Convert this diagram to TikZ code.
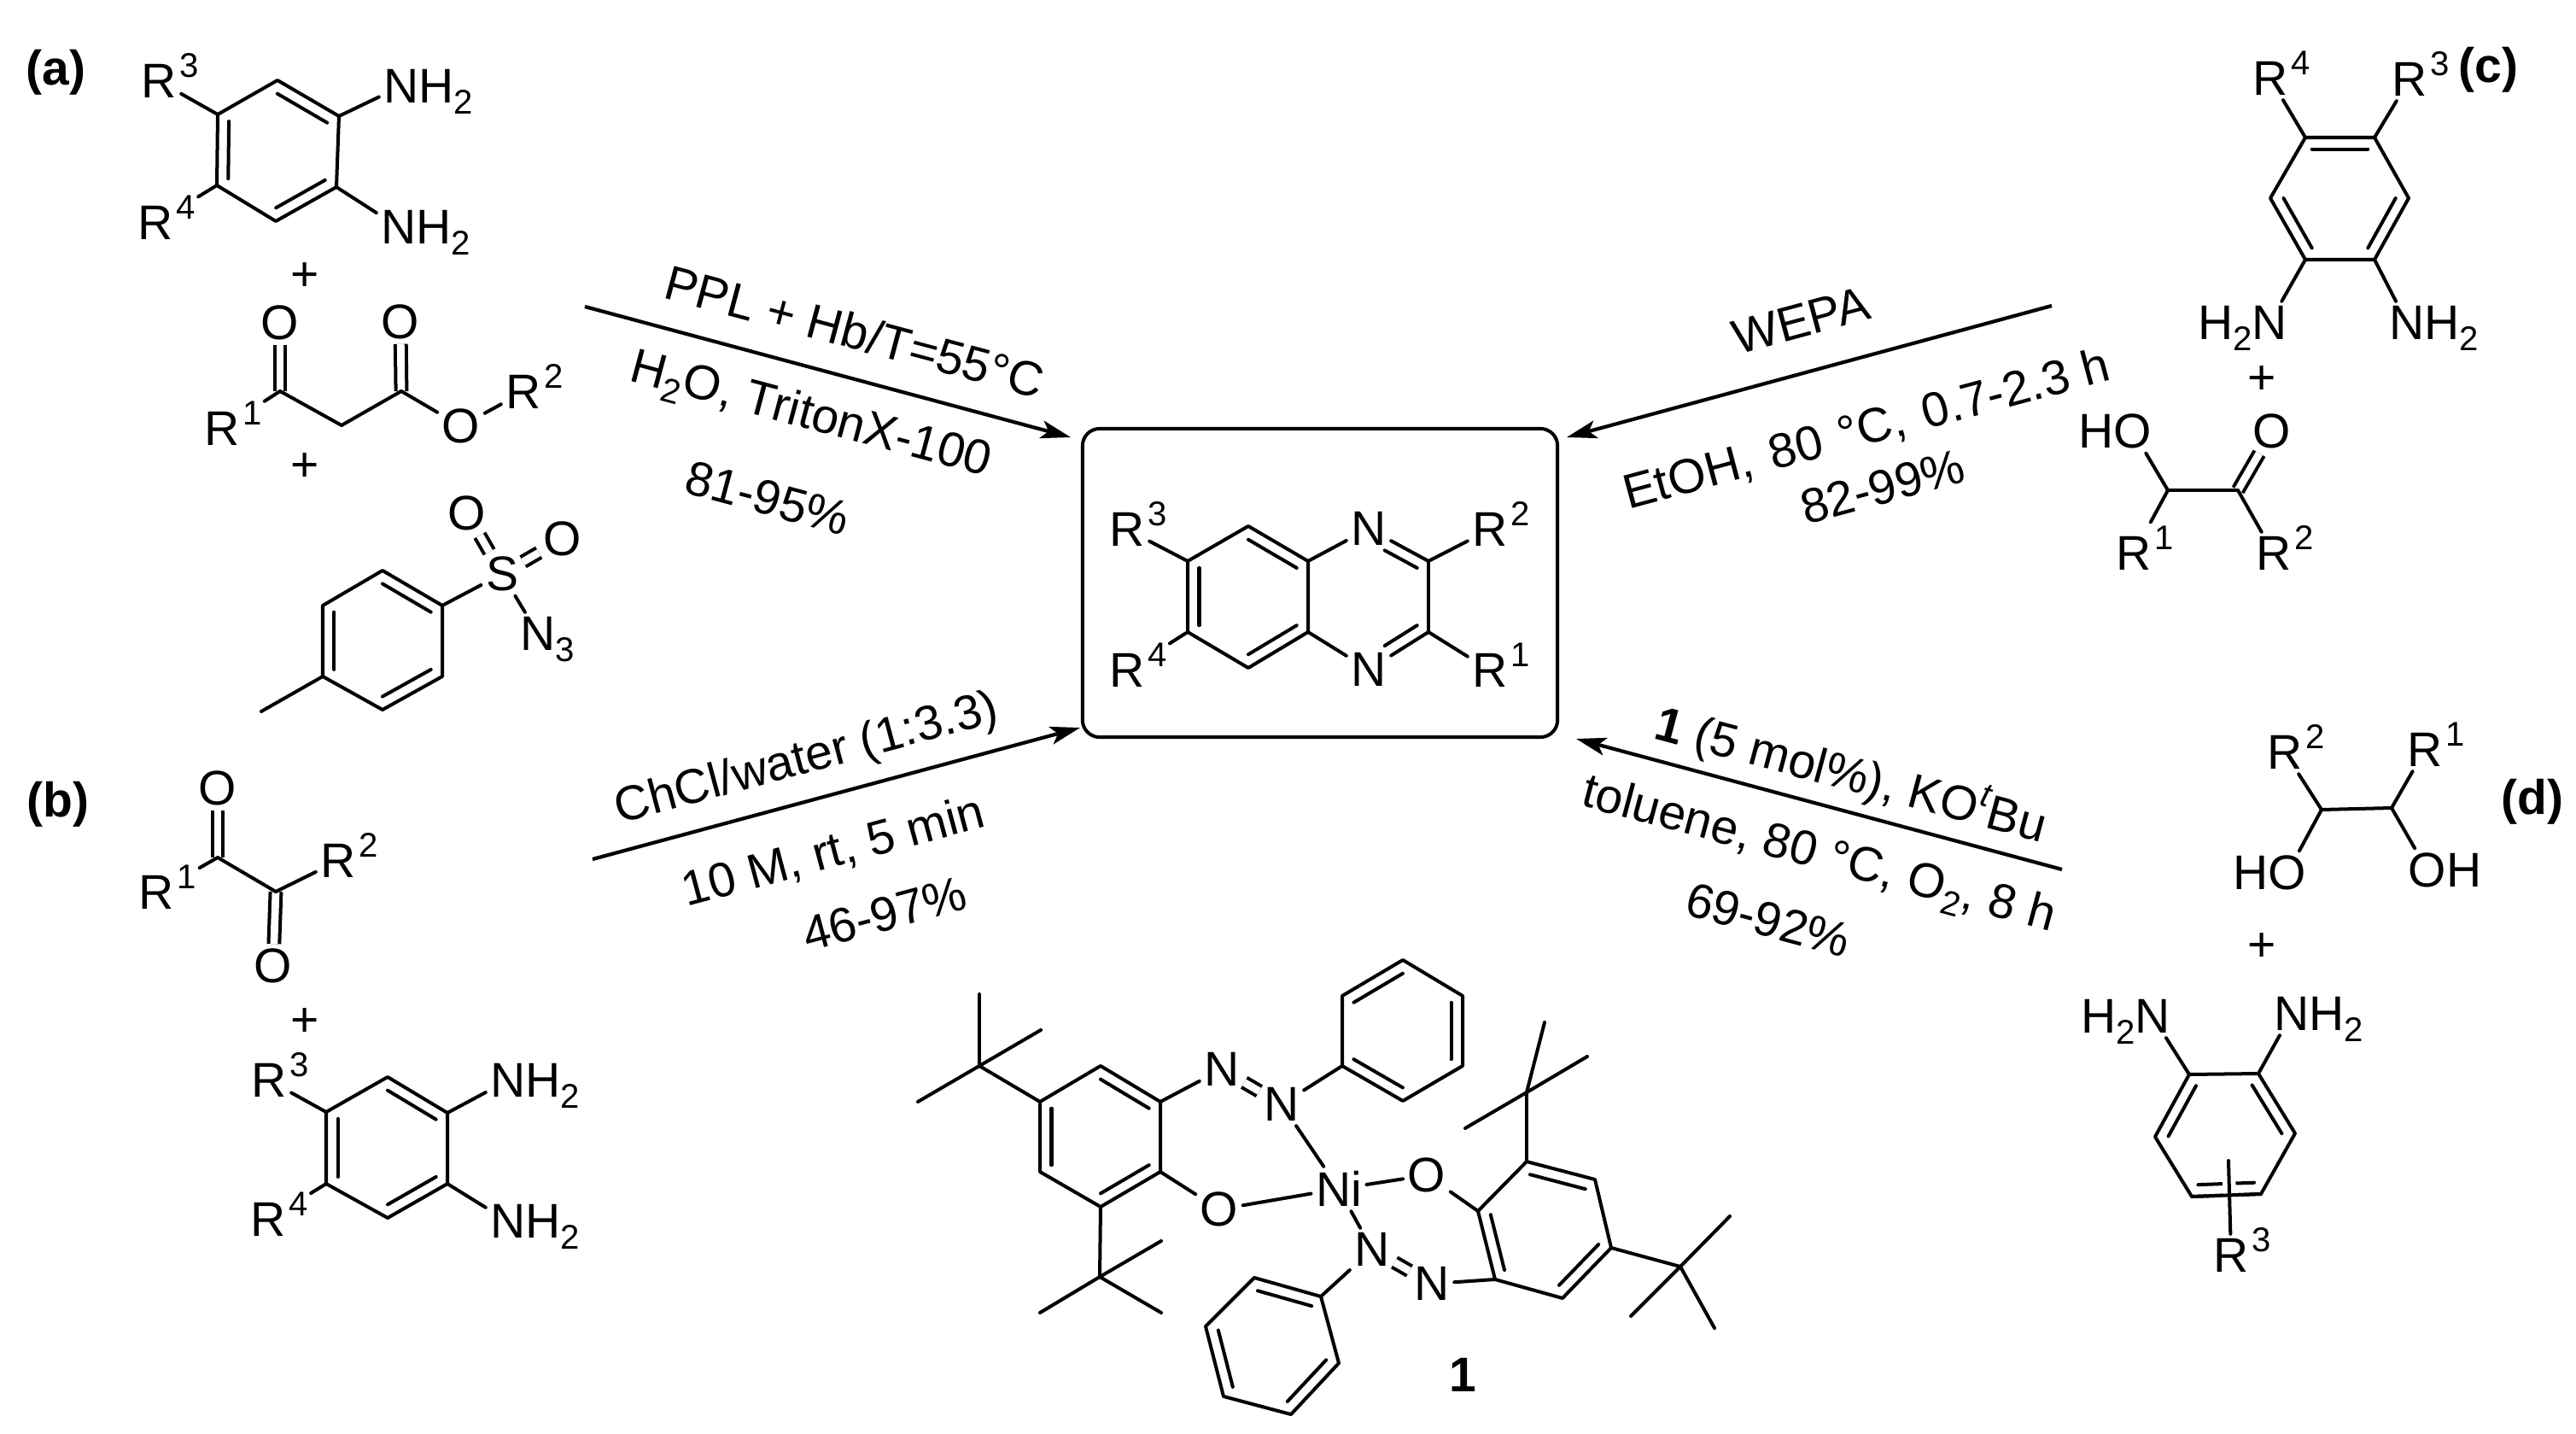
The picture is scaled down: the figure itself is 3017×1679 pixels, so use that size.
\documentclass[tikz,border=0pt]{standalone}
\usepackage{fontspec}
\setmainfont{Liberation Sans}
\usetikzlibrary{arrows.meta,calc}

\newcommand{\supn}[1]{\rlap{\smash{\kern1pt\raisebox{6.8pt}{\fontsize{11.4}{11.4}\selectfont #1}}}}
\newcommand{\subn}[1]{\raisebox{-3.6pt}{\fontsize{11.4}{11.4}\selectfont #1}}
\newcommand{\Rg}[1]{R\supn{#1}}
\newcommand{\NHtwo}{N\rlap{\smash{H\subn{2}}}}
\newcommand{\HtwoN}{\llap{\smash{H\subn{2}}}N}
\newcommand{\hexring}[7]{
  \path coordinate (#1_1) at (#2) coordinate (#1_2) at (#3) coordinate (#1_3) at (#4)
  coordinate (#1_4) at (#5) coordinate (#1_5) at (#6) coordinate (#1_6) at (#7)
  coordinate (#1_c) at ($(#1_1)!.5!(#1_4)$);
  \draw[bond] (#1_1) -- (#1_2) -- (#1_3) -- (#1_4) -- (#1_5) -- (#1_6) -- cycle;
}
\newcommand{\inbond}[3]{\draw[bond] ($(#1)!.19!(#3)$) -- ($(#2)!.19!(#3)$);}
\newcommand{\inbondn}[3]{\draw[bond] ($($(#1)!.33!(#2)$)!.19!(#3)$) -- ($(#2)!.19!(#3)$);}

\begin{document}
\begin{tikzpicture}[x=0.01cm,y=-0.01cm,
  every node/.style={font=\fontsize{16.2}{18}\selectfont},
  bond/.style={line width=1.14pt,line join=round,line cap=round},
  dblbond/.style={every edge/.style={draw,line width=1.14pt,double,double distance=2.5pt}},
  atom/.style={inner sep=1.4pt},
  lab/.style={anchor=base west,inner sep=0pt},
  supgap/.style={shorten >=8pt},
  rxn/.style={line width=1.2pt,-{Stealth[length=10pt,width=6pt,inset=2.4pt]}},
  prodbox/.style={draw,line width=1.14pt,rounded corners=0.2cm,minimum width=5.56cm,minimum height=3.61cm,inner sep=0pt,outer sep=0pt},
  halo/.style={preaction={draw=white,line width=4.4pt,line cap=butt}}]
  \useasboundingbox (0,0) rectangle (3017,1679);

  \path
  node[lab] (lab_a) at (30,100) {\textbf{(a)}}
  node[lab] (lab_b) at (31,956) {\textbf{(b)}}
  node[lab] (lab_c) at (2879,97) {\textbf{(c)}}
  node[lab] (lab_d) at (2929,953) {\textbf{(d)}}
  node (plus_a1) at (357,324) {+}
  node (plus_a2) at (357,547) {+}
  node (plus_b) at (357,1197) {+}
  node (plus_c) at (2649,445) {+}
  node (plus_d) at (2649,1109) {+}
  node (lab_cat) at (1713,1610) {\textbf{1}}
  ;

  % (a)
  \hexring{a}{325,94}{397,136}{394,219}{323,259}{254,217}{255,134}
  \inbond{a_1}{a_2}{a_c} \inbond{a_3}{a_4}{a_c} \inbond{a_5}{a_6}{a_c}
  \path
  node[atom] (a_R3) at (186,95) {\Rg{3}}
  node[atom] (a_R4) at (182,261) {\Rg{4}}
  node[atom] (a_N1) at (470,101) {\NHtwo}
  node[atom] (a_N2) at (467,266) {\NHtwo}
  ;
  \path[bond]
  (a_6) edge (a_R3)
  (a_5) edge[supgap] (a_R4)
  (a_2) edge (a_N1)
  (a_3) edge (a_N2)
  ;
  \path
  coordinate (k_1) at (328,458) coordinate (k_2) at (400,498) coordinate (k_3) at (470,458)
  node[atom] (k_O1) at (328,378) {O}
  node[atom] (k_O2) at (469,377) {O}
  node[atom] (k_O3) at (540,499) {O}
  node[atom] (k_R1) at (260,502) {\Rg{1}}
  node[atom] (k_R2) at (613,459) {\Rg{2}}
  ;
  \path[dblbond]
  (k_1) edge (k_O1)
  (k_3) edge (k_O2)
  ;
  \path[bond]
  (k_1) edge[supgap] (k_R1)
  (k_1) edge (k_2)
  (k_2) edge (k_3)
  (k_3) edge (k_O3)
  (k_O3) edge (k_R2)
  ;
  \hexring{t}{448,668}{518,709}{518,792}{448,831}{378,792}{378,709}
  \inbond{t_1}{t_2}{t_c} \inbond{t_3}{t_4}{t_c} \inbond{t_5}{t_6}{t_c}
  \path
  coordinate (t_Me) at (306,833)
  node[atom] (t_S) at (588,672) {S}
  node[atom] (t_O1) at (547,601) {O}
  node[atom] (t_O2) at (659,631) {O}
  node[atom] (t_N) at (630,742) {N\rlap{\smash{\subn{3}}}}
  ;
  \path[dblbond]
  (t_S) edge (t_O1)
  (t_S) edge (t_O2)
  ;
  \path[bond]
  (t_5) edge (t_Me)
  (t_2) edge (t_S)
  (t_S) edge (t_N)
  ;

  % (b)
  \path
  coordinate (e_1) at (255,1004) coordinate (e_2) at (323,1044)
  node[atom] (e_O1) at (255,923) {O}
  node[atom] (e_O2) at (320,1131) {O}
  node[atom] (e_R1) at (183,1045) {\Rg{1}}
  node[atom] (e_R2) at (396,1008) {\Rg{2}}
  ;
  \path[dblbond]
  (e_1) edge (e_O1)
  (e_2) edge (e_O2)
  ;
  \path[bond]
  (e_1) edge[supgap] (e_R1)
  (e_1) edge (e_2)
  (e_2) edge (e_R2)
  ;
  \hexring{b}{454,1261}{524,1303}{524,1386}{454,1426}{382,1386}{382,1302}
  \inbond{b_1}{b_2}{b_c} \inbond{b_3}{b_4}{b_c} \inbond{b_5}{b_6}{b_c}
  \path
  node[atom] (b_R3) at (315,1265) {\Rg{3}}
  node[atom] (b_R4) at (314,1428) {\Rg{4}}
  node[atom] (b_N1) at (595,1265) {\NHtwo}
  node[atom] (b_N2) at (595,1430) {\NHtwo}
  ;
  \path[bond]
  (b_6) edge (b_R3)
  (b_5) edge[supgap] (b_R4)
  (b_2) edge (b_N1)
  (b_3) edge (b_N2)
  ;

  % product
  \node[prodbox] (prod) at (1546,682.5) {};
  \hexring{q}{1462,616}{1532,657}{1532,740}{1462,782}{1391,740}{1391,657}
  \inbond{q_1}{q_2}{q_c} \inbond{q_3}{q_4}{q_c} \inbond{q_5}{q_6}{q_c}
  \path
  coordinate (q_7) at (1673,657) coordinate (q_8) at (1673,740) coordinate (q_p) at (1603,699)
  node[atom] (q_N1) at (1603,619) {N}
  node[atom] (q_N2) at (1603,784) {N}
  node[atom] (q_R1) at (1745,785) {\Rg{1}}
  node[atom] (q_R2) at (1745,620) {\Rg{2}}
  node[atom] (q_R3) at (1320,620) {\Rg{3}}
  node[atom] (q_R4) at (1320,785) {\Rg{4}}
  ;
  \inbondn{q_N1}{q_7}{q_p} \inbondn{q_N2}{q_8}{q_p}
  \path[bond]
  (q_2) edge (q_N1)
  (q_N1) edge (q_7)
  (q_7) edge (q_8)
  (q_8) edge (q_N2)
  (q_N2) edge (q_3)
  (q_7) edge (q_R2)
  (q_8) edge (q_R1)
  (q_6) edge (q_R3)
  (q_5) edge[supgap] (q_R4)
  ;

  % (c)
  \hexring{c}{2700,161}{2781,161}{2821,232}{2781,304}{2700,304}{2659,232}
  \inbond{c_1}{c_2}{c_c} \inbond{c_3}{c_4}{c_c} \inbond{c_5}{c_6}{c_c}
  \path
  node[atom] (c_R4) at (2659,92) {\Rg{4}}
  node[atom] (c_R3) at (2822,93) {\Rg{3}}
  node[atom] (c_N1) at (2658,378) {\HtwoN}
  node[atom] (c_N2) at (2819,378) {\NHtwo}
  coordinate (h_1) at (2539,574) coordinate (h_2) at (2621,574)
  node[atom] (h_O1) at (2498,505) {\llap{H}O}
  node[atom] (h_O2) at (2661,505) {O}
  node[atom] (h_R1) at (2499,648) {\Rg{1}}
  node[atom] (h_R2) at (2663,648) {\Rg{2}}
  ;
  \path[dblbond] (h_2) edge (h_O2);
  \path[bond]
  (c_1) edge (c_R4)
  (c_2) edge (c_R3)
  (c_5) edge (c_N1)
  (c_4) edge (c_N2)
  (h_1) edge (h_O1)
  (h_1) edge[shorten >=3.7pt] (h_R1)
  (h_1) edge (h_2)
  (h_2) edge (h_R2)
  ;

  % (d)
  \path
  coordinate (g_1) at (2719,948) coordinate (g_2) at (2801,946)
  node[atom] (g_R2) at (2676,881) {\Rg{2}}
  node[atom] (g_R1) at (2840,878) {\Rg{1}}
  node[atom] (g_O1) at (2679,1022) {\llap{H}O}
  node[atom] (g_O2) at (2843,1019) {O\rlap{H}}
  ;
  \path[bond]
  (g_1) edge (g_2)
  (g_1) edge (g_R2)
  (g_1) edge (g_O1)
  (g_2) edge (g_R1)
  (g_2) edge (g_O2)
  ;
  \hexring{d}{2564,1258}{2645,1257}{2688,1327}{2648,1398}{2567,1401}{2524,1331}
  \inbond{d_1}{d_6}{d_c} \inbond{d_2}{d_3}{d_c} \inbond{d_4}{d_5}{d_c}
  \path
  node[atom] (d_N1) at (2521,1190) {\HtwoN}
  node[atom] (d_N2) at (2684,1187) {\NHtwo}
  coordinate (d_s) at (2610,1359)
  node[atom] (d_R3) at (2613,1470) {\Rg{3}}
  ;
  \draw[bond,halo] (d_s) -- (d_R3);
  \path[bond]
  (d_4) edge (d_5)
  (d_1) edge (d_N1)
  (d_2) edge (d_N2)
  ;

  % arrows
  \path
  coordinate (ra_0) at (685,359) coordinate (ra_1) at (1254,512)
  coordinate (rb_0) at (694,1006) coordinate (rb_1) at (1265,852)
  coordinate (rc_0) at (2403,358) coordinate (rc_1) at (1835,512)
  coordinate (rd_0) at (2415,1018) coordinate (rd_1) at (1846,865)
  ;
  \path[rxn]
  (ra_0) edge (ra_1)
  (rb_0) edge (rb_1)
  (rc_0) edge (rc_1)
  (rd_0) edge (rd_1)
  ;
  \path
  node[rotate=-15] (ca_1) at (1001,388) {PPL + Hb/T=55°C}
  node[rotate=-15] (ca_2) at (949,488) {H\subn{2}O, TritonX-100}
  node[rotate=-15] (ca_3) at (899,583) {81-95\%}
  node[rotate=15] (cb_1) at (945,890) {ChCl/water (1:3.3)}
  node[rotate=15] (cb_2) at (976,998) {10 M, rt, 5 min}
  node[rotate=15] (cb_3) at (1036,1070) {46-97\%}
  node[rotate=15] (cc_1) at (2109,375) {WEPA}
  node[rotate=15] (cc_2) at (2186,504) {EtOH,\hspace{1.5pt} 80\hspace{1.5pt} °C,\hspace{1.5pt} 0.7-2.3 h}
  node[rotate=15] (cc_3) at (2205,570) {82-99\%}
  node[rotate=-15] (cd_1) at (2168,907) {\textbf{1} (5 mol\%), KO\raisebox{6.8pt}{\fontsize{11.4}{11.4}\selectfont\textit{t}}Bu}
  node[rotate=-15] (cd_2) at (2130,1003) {toluene, 80 °C, O\subn{2}, 8 h}
  node[rotate=-15] (cd_3) at (2071,1077) {69-92\%}
  ;

  % 1
  \hexring{l}{1289,1248}{1359,1290}{1359,1372}{1289,1413}{1218,1372}{1218,1290}
  \inbond{l_1}{l_2}{l_c} \inbond{l_3}{l_4}{l_c} \inbond{l_5}{l_6}{l_c}
  \hexring{p}{1572,1248}{1572,1166}{1643,1124}{1713,1166}{1713,1248}{1643,1289}
  \inbond{p_2}{p_3}{p_c} \inbond{p_4}{p_5}{p_c} \inbond{p_6}{p_1}{p_c}
  \hexring{m}{1788,1360}{1868,1381}{1887,1461}{1830,1520}{1751,1498}{1731,1418}
  \inbond{m_1}{m_2}{m_c} \inbond{m_3}{m_4}{m_c} \inbond{m_5}{m_6}{m_c}
  \hexring{s}{1547,1518}{1469,1496}{1412,1553}{1433,1635}{1512,1656}{1568,1596}
  \inbond{s_1}{s_2}{s_c} \inbond{s_3}{s_4}{s_c} \inbond{s_5}{s_6}{s_c}
  \path
  coordinate (u_1) at (1147,1248) coordinate (u_2) at (1147,1164) coordinate (u_3) at (1219,1206) coordinate (u_4) at (1075,1290)
  coordinate (v_1) at (1288,1495) coordinate (v_2) at (1360,1453) coordinate (v_3) at (1218,1537) coordinate (v_4) at (1360,1537)
  coordinate (w_1) at (1788,1279) coordinate (w_2) at (1809,1197) coordinate (w_3) at (1859,1237) coordinate (w_4) at (1716,1321)
  coordinate (x_1) at (1968,1483) coordinate (x_2) at (2026,1424) coordinate (x_3) at (2008,1555) coordinate (x_4) at (1910,1541)
  node[atom] (n_Ni) at (1568,1392) {Ni}
  node[atom] (n_1) at (1431,1252) {N}
  node[atom] (n_2) at (1501,1293) {N}
  node[atom] (n_3) at (1607,1463) {N}
  node[atom] (n_4) at (1677,1503) {N}
  node[atom] (o_1) at (1428,1416) {O}
  node[atom] (o_2) at (1671,1376) {O}
  ;
  \path[dblbond]
  (n_1) edge (n_2)
  (n_3) edge (n_4)
  ;
  \path[bond]
  (l_6) edge (u_1) (u_1) edge (u_2) (u_1) edge (u_3) (u_1) edge (u_4)
  (l_4) edge (v_1) (v_1) edge (v_2) (v_1) edge (v_3) (v_1) edge (v_4)
  (m_1) edge (w_1) (w_1) edge (w_2) (w_1) edge (w_3) (w_1) edge (w_4)
  (m_3) edge (x_1) (x_1) edge (x_2) (x_1) edge (x_3) (x_1) edge (x_4)
  (l_2) edge (n_1)
  (n_2) edge (p_1)
  (n_2) edge (n_Ni)
  (l_3) edge (o_1)
  (o_1) edge (n_Ni)
  (n_Ni) edge (o_2)
  (o_2) edge (m_6)
  (n_Ni) edge (n_3)
  (n_3) edge (s_1)
  (n_4) edge (m_5)
  ;
\end{tikzpicture}
\end{document}
